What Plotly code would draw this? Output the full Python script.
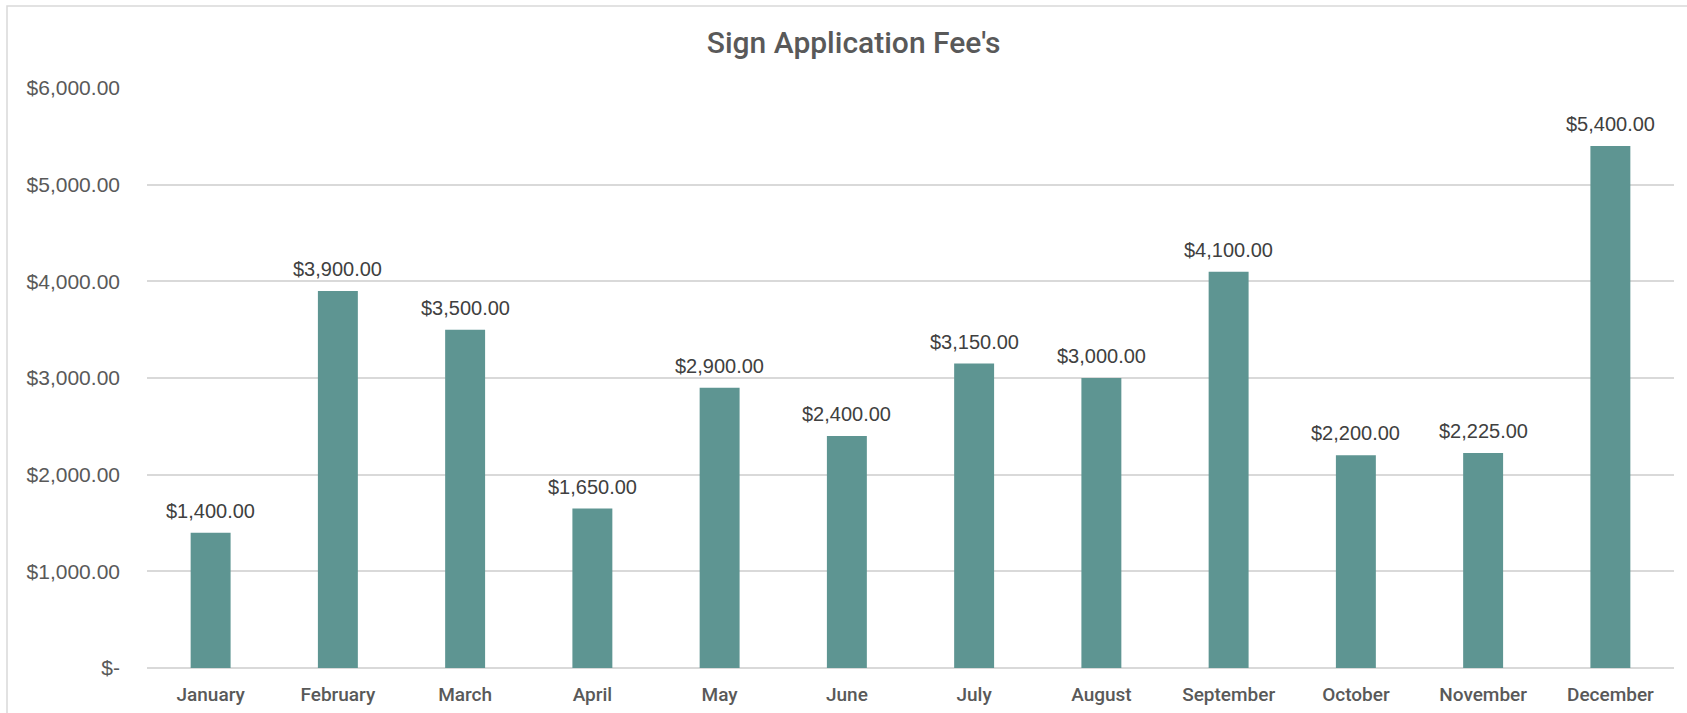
import plotly.graph_objects as go

months = ["January", "February", "March", "April", "May", "June", "July",
          "August", "September", "October", "November", "December"]
fees = [1400, 3900, 3500, 1650, 2900, 2400, 3150, 3000, 4100, 2200, 2225, 5400]
y_tickvals = [0, 1000, 2000, 3000, 4000, 5000, 6000]
y_ticktext = ["$-", "$1,000.00", "$2,000.00", "$3,000.00", "$4,000.00", "$5,000.00", "$6,000.00"]

W, H = 1687, 713
fig = go.Figure()
fig.add_trace(go.Bar(
    x=months, y=fees,
    marker=dict(color="#5E9592", line=dict(width=0)),
    width=0.314,
    hoverinfo="x+y",
))

for m, v in zip(months, fees):
    fig.add_annotation(
        x=m, y=v, xref="x", yref="y",
        text=f"${v:,.2f}", showarrow=False,
        yanchor="bottom", yshift=9,
        font=dict(family="Liberation Sans, Arial, sans-serif", size=20, color="#404040"),
    )

fig.update_layout(
    width=W, height=H,
    margin=dict(l=147, r=13, t=88, b=45, autoexpand=False),
    paper_bgcolor="white", plot_bgcolor="white",
    showlegend=False,
    bargap=0.686,
    title=dict(
        text="Sign Application Fee's",
        x=0.506, xanchor="center", xref="container",
        y=1 - 42 / H, yanchor="middle", yref="container",
        font=dict(family="Roboto, Liberation Sans, sans-serif", size=30, color="#595959", weight=500),
    ),
    xaxis=dict(
        showgrid=False, showline=False, zeroline=False, automargin=False,
        ticks="", ticklabelstandoff=13,
        tickfont=dict(family="Roboto, Liberation Sans, sans-serif", size=19, color="#595959", weight=500),
    ),
    yaxis=dict(
        range=[0, 6000], automargin=False,
        tickvals=y_tickvals, ticktext=y_ticktext,
        showgrid=True, gridcolor="#D9D9D9", gridwidth=1.5,
        zeroline=True, zerolinecolor="#D9D9D9", zerolinewidth=1.5,
        showline=False, ticks="", ticklabelstandoff=26,
        tickfont=dict(family="Liberation Sans, Arial, sans-serif", size=21, color="#595959"),
    ),
    shapes=[dict(
        type="rect", xref="paper", yref="paper",
        x0=(7 - 147) / (W - 160), x1=1.2,
        y0=-0.3, y1=1 + (88 - 6) / (H - 133),
        line=dict(color="#D9D9D9", width=1.5), fillcolor="rgba(0,0,0,0)",
        layer="below",
    )],
)

fig.write_html(
    "out.html",
    config={"displayModeBar": False},
    post_script="document.body.style.margin='0';document.body.style.overflow='hidden';",
)
